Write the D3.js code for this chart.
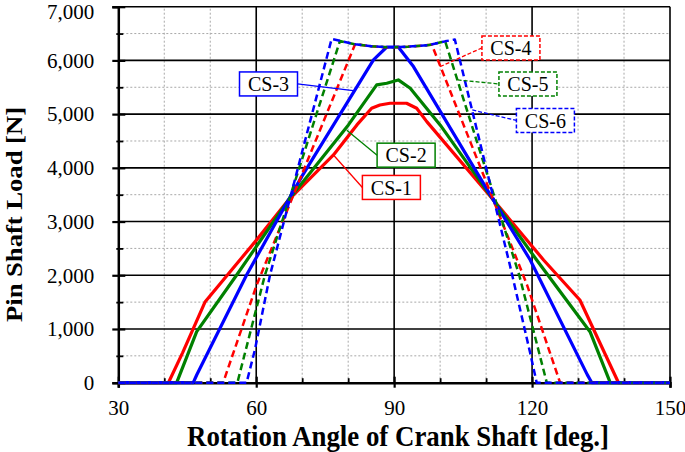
<!DOCTYPE html>
<html><head><meta charset="utf-8">
<script src="https://cdn.jsdelivr.net/npm/d3@7"></script>
<style>
html,body{margin:0;padding:0;background:#fff;}
svg{display:block;font-family:"Liberation Serif","Times New Roman",serif;}
</style>
</head><body>
<svg id="chart" width="685" height="452"></svg>
<script>
// ---------- data ----------
const angleTicks = [30, 60, 90, 120, 150];
const angleMinorTicks = [40, 50, 70, 80, 100, 110, 130, 140];
const loadTicks = [0, 1000, 2000, 3000, 4000, 5000, 6000, 7000];
const loadMinorTicks = [500, 1500, 2500, 3500, 4500, 5500, 6500];
const seriesNames = ["CS-1", "CS-2", "CS-3", "CS-4", "CS-5", "CS-6"];

const cs1Angle = [30, 40.9, 44, 48.9, 60, 67, 76.8, 81.9, 85.1, 86.9, 89.1, 92.7, 94.9, 97.1, 111.6, 122.5, 130.4, 138.8, 150];
const cs1Load  = [0, 0, 560, 1508, 2650, 3400, 4240, 4799, 5110, 5170, 5203, 5203, 5110, 4860, 3400, 2285, 1540, 0, 0];

const cs2Angle = [30, 42.7, 47.05, 55.75, 67, 80.05, 86.2, 88.4, 90.9, 93.5, 100, 111.6, 121, 132.6, 137, 150];
const cs2Load  = [0, 0, 950, 2005, 3400, 4799, 5544, 5575, 5637, 5482, 4799, 3400, 2285, 950, 0, 0];

const cs3Angle = [30, 46.3, 47.05, 57.9, 67, 69.9, 85.5, 88.4, 90.9, 94.2, 111.6, 119.6, 132, 133, 150];
const cs3Load  = [0, 0, 143, 2005, 3400, 3836, 6009, 6250, 6250, 5885, 3400, 2285, 150, 0, 0];

const cs4Angle = [30, 52.8, 60.1, 81.5, 85, 88.4, 90, 93, 97.5, 98.2, 118.9, 126.1, 150];
const cs4Load  = [0, 0, 1820, 6300, 6265, 6245, 6245, 6255, 6285, 6290, 1820, 0, 0];

const cs5Angle = [30, 55.9, 61.9, 78.2, 81.5, 85, 88.4, 90, 93, 97.5, 101.1, 117.2, 123.2, 150];
const cs5Load  = [0, 0, 2005, 6360, 6300, 6265, 6245, 6245, 6255, 6285, 6355, 2005, 0, 0];

const cs6Angle = [30, 57.9, 59.7, 63, 76.4, 81.5, 85, 88.4, 90, 93, 97.5, 101.1, 103.2, 115.2, 119.6, 121, 150];
const cs6Load  = [0, 0, 609, 2005, 6400, 6300, 6265, 6245, 6245, 6255, 6285, 6355, 6390, 2180, 547, 0, 0];

const seriesAngles = [cs1Angle, cs2Angle, cs3Angle, cs4Angle, cs5Angle, cs6Angle];
const seriesLoads  = [cs1Load, cs2Load, cs3Load, cs4Load, cs5Load, cs6Load];

// ---------- styles ----------
const seriesColors = ["#ff0000", "#008000", "#0000ff", "#ff0000", "#008000", "#0000ff"];
const seriesDashed = [false, false, false, true, true, true];

// callout placement (data coordinates)
const callouts = [
  {name: "CS-1", box: [89.4, 3635], anchor: [76.8, 4240], side: "left"},
  {name: "CS-2", box: [92.6, 4236], anchor: [79.7, 4702], side: "left"},
  {name: "CS-3", box: [62.67, 5562], anchor: [81.1, 5437], side: "right"},
  {name: "CS-4", box: [115.4, 6232], anchor: [100.0, 5884], side: "left"},
  {name: "CS-5", box: [119.1, 5562], anchor: [103.8, 5636], side: "left"},
  {name: "CS-6", box: [122.9, 4882], anchor: [107.0, 5078], side: "left"}
];

// ---------- layout ----------
const W = 685, H = 452;
const m = {left: 118.3, right: 15, top: 6.7, bottom: 69.3};
const svg = d3.select("#chart");
const x = d3.scaleLinear().domain([30, 150]).range([m.left, W - m.right]);
const y = d3.scaleLinear().domain([0, 7000]).range([H - m.bottom, m.top]);

svg.append("rect").attr("width", W).attr("height", H).attr("fill", "#fff");

// minor grid (dotted)
const grid = svg.append("g");
grid.selectAll(".vminor").data(angleMinorTicks).join("line")
  .attr("x1", d => x(d)).attr("x2", d => x(d))
  .attr("y1", y(0)).attr("y2", y(7000))
  .attr("stroke", "#a8a8a8").attr("stroke-width", 1).attr("stroke-dasharray", "2,2");
grid.selectAll(".hminor").data(loadMinorTicks).join("line")
  .attr("x1", x(30)).attr("x2", x(150))
  .attr("y1", d => y(d)).attr("y2", d => y(d))
  .attr("stroke", "#a8a8a8").attr("stroke-width", 1).attr("stroke-dasharray", "2,2");
// major grid
grid.selectAll(".vmajor").data(angleTicks.slice(1)).join("line")
  .attr("x1", d => x(d)).attr("x2", d => x(d))
  .attr("y1", y(0)).attr("y2", y(7000))
  .attr("stroke", "#000").attr("stroke-width", 1.6);
grid.selectAll(".hmajor").data(loadTicks.slice(1)).join("line")
  .attr("x1", x(30)).attr("x2", x(150))
  .attr("y1", d => y(d)).attr("y2", d => y(d))
  .attr("stroke", "#000").attr("stroke-width", 1.6);

// axes
const fmt = d3.format(",");
const yAxis = svg.append("g").attr("transform", `translate(${x(30)},0)`)
  .call(d3.axisLeft(y).tickValues(loadTicks).tickFormat(fmt).tickSize(6).tickPadding(18));
yAxis.select(".domain").attr("stroke", "#000").attr("stroke-width", 2.5);
yAxis.selectAll(".tick line").attr("x1", 7).attr("stroke-width", 2.2);
yAxis.selectAll("text").attr("font-size", 21).attr("fill", "#000")
  .attr("font-family", "'Liberation Serif','Times New Roman',serif");
yAxis.selectAll(".tick").filter(d => d === 7000).select("text").attr("dy", "0.55em");

const yMinor = svg.append("g").attr("transform", `translate(${x(30)},0)`)
  .call(d3.axisLeft(y).tickValues(loadMinorTicks).tickFormat("").tickSize(2));
yMinor.select(".domain").remove();
yMinor.selectAll(".tick line").attr("x1", 5).attr("stroke-width", 1.8);

const xAxis = svg.append("g").attr("transform", `translate(0,${y(0)})`)
  .call(d3.axisBottom(x).tickValues(angleTicks).tickFormat(d3.format("d")).tickSize(5).tickPadding(12));
xAxis.select(".domain").attr("stroke", "#000").attr("stroke-width", 2.5);
xAxis.selectAll(".tick line").attr("y1", -6).attr("stroke-width", 2.2);
xAxis.selectAll("text").attr("font-size", 21).attr("fill", "#000")
  .attr("font-family", "'Liberation Serif','Times New Roman',serif");

const xMinor = svg.append("g").attr("transform", `translate(0,${y(0)})`)
  .call(d3.axisBottom(x).tickValues(angleMinorTicks).tickFormat("").tickSize(0));
xMinor.select(".domain").remove();
xMinor.selectAll(".tick line").attr("y1", -4.5).attr("y2", 0).attr("stroke-width", 1.8);

// series
const line = d3.line().x(d => x(d[0])).y(d => y(d[1]));
const seriesG = svg.append("g");
seriesNames.forEach((name, i) => {
  const pts = seriesAngles[i].map((a, k) => [a, seriesLoads[i][k]]);
  seriesG.append("path").datum(pts)
    .attr("d", line)
    .attr("fill", "none")
    .attr("stroke", seriesColors[i])
    .attr("stroke-width", seriesDashed[i] ? 2.5 : 3.2)
    .attr("stroke-linejoin", "round")
    .attr("stroke-dasharray", seriesDashed[i] ? "7,4" : null);
});

// callouts
const boxW = 58, boxH = 24;
const cg = svg.append("g");
callouts.forEach(c => {
  const i = seriesNames.indexOf(c.name);
  const bx = x(c.box[0]), by = y(c.box[1]);
  const ex = c.side === "left" ? bx - boxW / 2 : bx + boxW / 2;
  cg.append("line")
    .attr("x1", x(c.anchor[0])).attr("y1", y(c.anchor[1]))
    .attr("x2", ex).attr("y2", by)
    .attr("stroke", seriesColors[i]).attr("stroke-width", 1.3)
    .attr("stroke-dasharray", seriesDashed[i] ? "4,2" : null);
  cg.append("rect")
    .attr("x", bx - boxW / 2).attr("y", by - boxH / 2)
    .attr("width", boxW).attr("height", boxH)
    .attr("fill", "#fff").attr("stroke", seriesColors[i]).attr("stroke-width", 1.5)
    .attr("stroke-dasharray", seriesDashed[i] ? "4,2" : null);
  cg.append("text")
    .attr("x", bx).attr("y", by).attr("dy", "0.36em")
    .attr("text-anchor", "middle").attr("font-size", 20).attr("fill", "#000")
    .text(c.name);
});

// axis titles
svg.append("text")
  .attr("x", 398).attr("y", 446)
  .attr("text-anchor", "middle").attr("font-size", 29).attr("font-weight", "bold")
  .attr("textLength", 422).attr("lengthAdjust", "spacingAndGlyphs")
  .text("Rotation Angle of Crank Shaft [deg.]");
svg.append("text")
  .attr("transform", "translate(22,214.5) rotate(-90)")
  .attr("text-anchor", "middle").attr("font-size", 24).attr("font-weight", "bold")
  .attr("textLength", 215).attr("lengthAdjust", "spacingAndGlyphs")
  .text("Pin Shaft Load [N]");
</script>
</body></html>
